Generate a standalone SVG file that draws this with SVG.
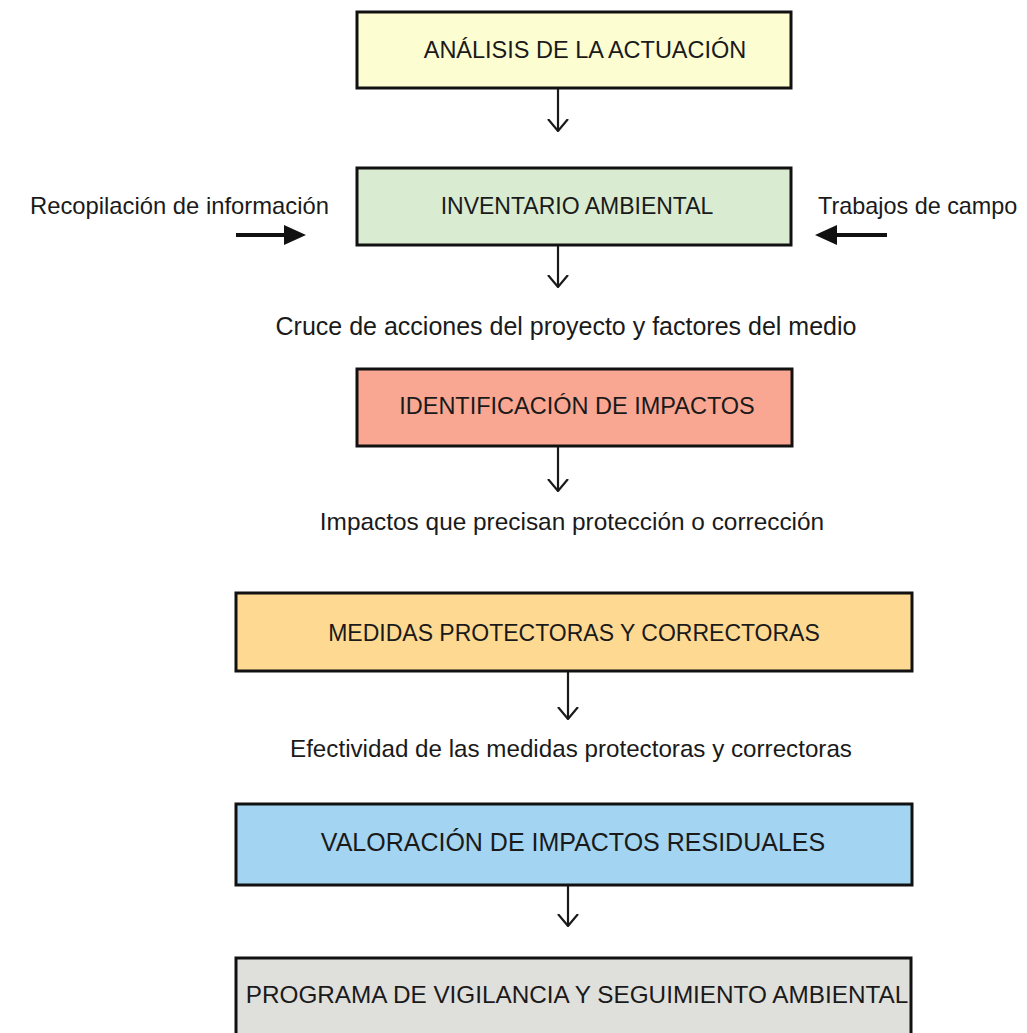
<svg xmlns="http://www.w3.org/2000/svg" width="1027" height="1033" viewBox="0 0 1027 1033">
<defs>
<style>
.box{stroke:#111;stroke-width:3}
.bt{font-family:"Liberation Sans",Arial,sans-serif;font-size:23.5px;fill:#1a1a1a;text-anchor:middle}
.lb{font-family:"Liberation Sans",Arial,sans-serif;font-size:24px;fill:#1a1a1a}
.conn{stroke:#1a1a1a;stroke-width:2.2;fill:none}
</style>
<marker id="open" viewBox="0 0 13 22" refX="12" refY="11" markerWidth="13" markerHeight="22" markerUnits="userSpaceOnUse" orient="auto">
<path d="M0,1 L12,11 L0,21" fill="none" stroke="#1a1a1a" stroke-width="2.2"/>
</marker>
</defs>
<rect width="1027" height="1033" fill="#ffffff"/>
<g id="n1"><rect class="box" x="357" y="12" width="434" height="76" fill="#fdfdd2"/><text class="bt" x="585" y="58">ANÁLISIS DE LA ACTUACIÓN</text></g>
<g id="n2"><rect class="box" x="357" y="168" width="434" height="77" fill="#d9ebd1"/><text class="bt" x="577" y="214" style="font-size:23px">INVENTARIO AMBIENTAL</text></g>
<g id="n3"><rect class="box" x="357" y="369" width="435" height="77" fill="#f9a792"/><text class="bt" x="577" y="414">IDENTIFICACIÓN DE IMPACTOS</text></g>
<g id="n4"><rect class="box" x="236" y="593" width="676" height="78" fill="#fed992"/><text class="bt" x="574" y="641" style="font-size:23px">MEDIDAS PROTECTORAS Y CORRECTORAS</text></g>
<g id="n5"><rect class="box" x="236" y="804" width="676" height="81" fill="#a3d5f2"/><text class="bt" x="573" y="851" style="font-size:25px">VALORACIÓN DE IMPACTOS RESIDUALES</text></g>
<g id="n6"><rect class="box" x="236" y="958" width="675" height="80" fill="#dfdfdb"/><text class="bt" x="577" y="1003" style="font-size:24.3px">PROGRAMA DE VIGILANCIA Y SEGUIMIENTO AMBIENTAL</text></g>
<g id="labels">
<text class="lb" x="30" y="214" style="font-size:23.8px">Recopilación de información</text>
<text class="lb" x="818" y="214" style="font-size:23.4px">Trabajos de campo</text>
<text class="lb" x="566" y="335" text-anchor="middle" style="font-size:25px">Cruce de acciones del proyecto y factores del medio</text>
<text class="lb" x="572" y="530" text-anchor="middle" style="font-size:24.4px">Impactos que precisan protección o corrección</text>
<text class="lb" x="571" y="757" text-anchor="middle" style="font-size:24.2px">Efectividad de las medidas protectoras y correctoras</text>
</g>
<g id="connectors">
<line class="conn" x1="558" y1="89" x2="558" y2="131" marker-end="url(#open)"/>
<line class="conn" x1="558" y1="246" x2="558" y2="287" marker-end="url(#open)"/>
<line class="conn" x1="558" y1="447" x2="558" y2="491" marker-end="url(#open)"/>
<line class="conn" x1="568" y1="672" x2="568" y2="719" marker-end="url(#open)"/>
<line class="conn" x1="568" y1="886" x2="568" y2="926" marker-end="url(#open)"/>
<path d="M236,233 L284,233 L284,225 L306,235 L284,245 L284,237 L236,237 Z" fill="#111"/>
<path d="M887,233 L837,233 L837,225 L815,235 L837,245 L837,237 L887,237 Z" fill="#111"/>
</g>
</svg>
